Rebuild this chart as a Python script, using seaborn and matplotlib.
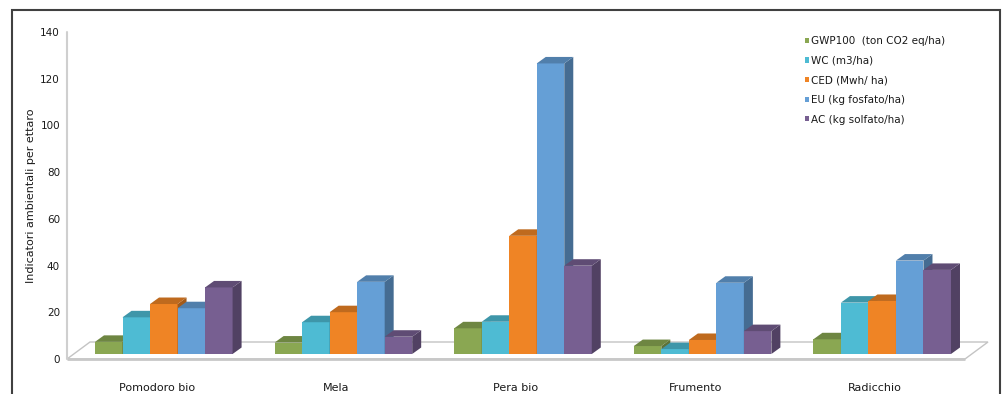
import numpy as np
import pandas as pd
import seaborn as sns
import matplotlib
matplotlib.use("Agg")
import matplotlib.pyplot as plt
from matplotlib.patches import Polygon, Rectangle, Patch
from matplotlib import transforms as mtransforms
from matplotlib.colors import to_rgb

# Data: environmental indicators per hectare for each crop
colture = ["Pomodoro bio", "Mela", "Pera bio", "Frumento", "Radicchio"]
indicatori = ["GWP100  (ton CO2 eq/ha)", "WC (m3/ha)", "CED (Mwh/ ha)",
              "EU (kg fosfato/ha)", "AC (kg solfato/ha)"]
gwp100 = [5.2, 4.9, 11.0, 3.4, 6.3]
wc = [15.7, 13.6, 13.8, 2.1, 22.0]
ced = [21.4, 17.9, 50.6, 6.0, 22.7]
eu = [19.6, 30.9, 124.4, 30.5, 40.0]
ac = [28.5, 7.4, 37.8, 9.8, 36.0]
y_ticks = [0, 20, 40, 60, 80, 100, 120, 140]

colori = ["#8AA752", "#4EBBD3", "#EF8425", "#659FD6", "#775F91"]

df = pd.DataFrame({
    "Coltura": np.repeat(colture, len(indicatori)),
    "Indicatore": indicatori * len(colture),
    "Valore": np.array([gwp100, wc, ced, eu, ac]).T.ravel(),
})

sns.set_style("white")
plt.rcParams["font.family"] = ["DejaVu Sans"]

W, H = 1005, 394
fig = plt.figure(figsize=(W / 100, H / 100), dpi=100)
ax_left, ax_right, ax_top, ax_bottom = 67, 965, 32, 359
ax = fig.add_axes([ax_left / W, 1 - ax_bottom / H,
                   (ax_right - ax_left) / W, (ax_bottom - ax_top) / H])

sns.barplot(data=df, x="Coltura", y="Valore", hue="Indicatore",
            order=colture, hue_order=indicatori, palette=colori,
            width=0.766, saturation=1, errorbar=None, legend=False,
            linewidth=0, ax=ax)

ax.set_xlim(-0.5, len(colture) - 0.5)
ax.set_ylim(0, 140)
ax.set_yticks(y_ticks)
for s in ax.spines.values():
    s.set_visible(False)
ax.tick_params(axis="both", length=0, labelsize=7.5, colors="#1a1a1a")
ax.tick_params(axis="y", pad=5)
ax.tick_params(axis="x", pad=17, labelsize=8)
ax.set_xlabel("")
ax.set_ylabel("Indicatori ambientali per ettaro", fontsize=8, color="#1a1a1a")
ax.yaxis.set_label_coords(-0.035, 0.5)

# pixel -> data conversions for the 3D projection
px_x = (len(colture)) / (ax_right - ax_left)
px_y = 140 / (ax_bottom - ax_top)

# floor of the 3D plot (in axes fraction)
fdx = 23 / (ax_right - ax_left)
fdy = 17 / (ax_bottom - ax_top)
floor = Polygon([(0, 0), (1, 0), (1 + fdx, fdy), (fdx, fdy)], closed=True,
                transform=ax.transAxes, facecolor="white",
                edgecolor="#c4c4c4", linewidth=1.0, zorder=0.5, clip_on=False)
ax.add_patch(floor)
ax.plot([0, 1], [0, 0], transform=ax.transAxes, color="#c8c8c8", lw=2,
        zorder=0.6, clip_on=False, solid_capstyle="butt")
ax.plot([0, 0], [0, 1], transform=ax.transAxes, color="#cfcfcf", lw=1.5,
        zorder=0.6, clip_on=False)

# bars sit inside the floor depth: shift them back by a projection offset
bar_tr = mtransforms.offset_copy(ax.transData, fig=fig, x=7, y=5, units="dots")
ddx = 9 * px_x
ddy = 6.5 * px_y

def darker(c, f):
    r, g, b = to_rgb(c)
    return (r * f, g * f, b * f)

n_cat = len(colture)
for i, p in enumerate(ax.patches[:]):
    if not isinstance(p, Rectangle) or p is floor:
        continue
    hue_idx = i // n_cat
    if hue_idx >= len(colori):
        continue
    col = colori[hue_idx]
    x, w, h = p.get_x(), p.get_width(), p.get_height()
    z = 2 + hue_idx * 3
    p.set_transform(bar_tr)
    p.set_zorder(z)
    p.set_edgecolor("none")
    side = Polygon([(x + w, 0), (x + w + ddx, ddy), (x + w + ddx, h + ddy), (x + w, h)],
                   closed=True, facecolor=darker(col, 0.68), edgecolor="none",
                   transform=bar_tr, zorder=z + 1, clip_on=False)
    top = Polygon([(x, h), (x + ddx, h + ddy), (x + w + ddx, h + ddy), (x + w, h)],
                  closed=True, facecolor=darker(col, 0.8), edgecolor="none",
                  transform=bar_tr, zorder=z + 2, clip_on=False)
    ax.add_patch(side)
    ax.add_patch(top)

# legend with small square keys
handles = [Patch(facecolor=c, edgecolor="none") for c in colori]
leg = fig.legend(handles, indicatori, loc="upper left",
                 bbox_to_anchor=(800 / W, 1 - 31 / H), frameon=False,
                 fontsize=7.5, handlelength=0.4, handleheight=0.4,
                 handletextpad=0.2, labelspacing=0.92, borderpad=0)
for t in leg.get_texts():
    t.set_color("#1a1a1a")

# outer chart frame
frame = Rectangle((12 / W, -0.1), (1000 - 12) / W, 1.1 - 10 / H,
                  transform=fig.transFigure, fill=False,
                  edgecolor="#404040", linewidth=1.5, zorder=10)
fig.patches.append(frame)

fig.savefig("out.png", dpi=100)
